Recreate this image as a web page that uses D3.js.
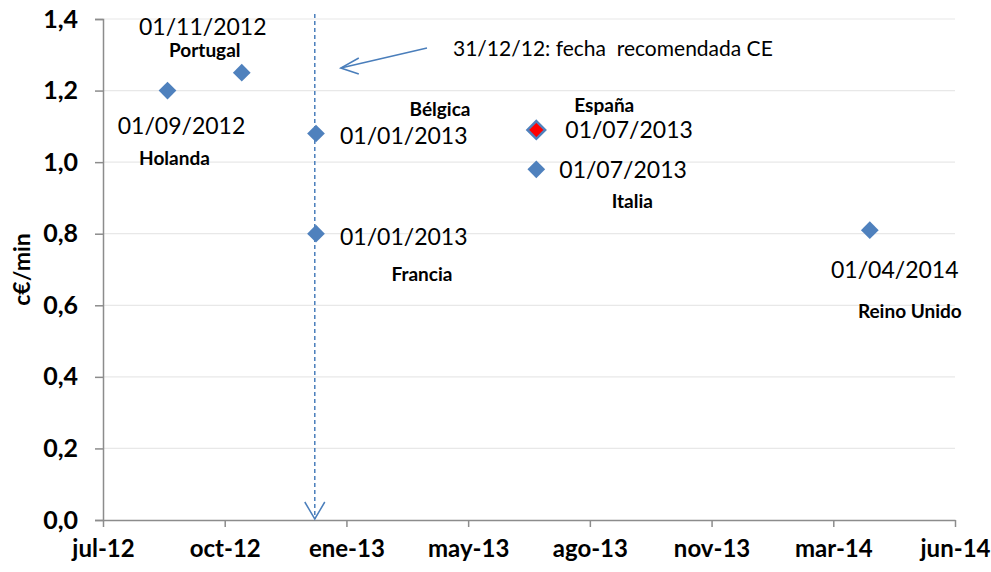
<!DOCTYPE html>
<html>
<head>
<meta charset="utf-8">
<script src="https://cdn.jsdelivr.net/npm/d3@7"></script>
<style>
  body { margin: 0; background: #fff; }
  svg text { font-family: Lato, "Open Sans", sans-serif; fill: #000; white-space: pre; }
</style>
</head>
<body>
<svg id="chart"></svg>
<script>
// data
var countries = ["Holanda", "Portugal", "Bélgica", "Francia", "España", "Italia", "Reino Unido"];
var dates = ["2012-09-01", "2012-11-01", "2013-01-01", "2013-01-01", "2013-07-01", "2013-07-01", "2014-04-01"];
var values = [1.20, 1.25, 1.08, 0.80, 1.09, 0.98, 0.81];
var dateLabels = ["01/09/2012", "01/11/2012", "01/01/2013", "01/01/2013", "01/07/2013", "01/07/2013", "01/04/2014"];

var xTickDates = ["2012-07-10", "2012-10-18", "2013-01-26", "2013-05-06", "2013-08-14", "2013-11-22", "2014-03-02", "2014-06-10"];
var xTickLabels = ["jul-12", "oct-12", "ene-13", "may-13", "ago-13", "nov-13", "mar-14", "jun-14"];
var yTicks = [0, 0.2, 0.4, 0.6, 0.8, 1.0, 1.2, 1.4];

var ceDate = "2012-12-31";
var ceText = "31/12/12: fecha  recomendada CE";

// label layout (offsets from the marker, px): [date dx, date dy, anchor, name dx, name dy]
var labelLayout = [
  [14, 35, "middle", 7, 68],
  [-39, -46, "middle", -37, -22],
  [24, 2, "start", 124, -24],
  [24, 3, "start", 106, 41],
  [29, 0, "start", 68, -25],
  [23, 1, "start", 96, 32],
  [25, 40, "middle", 40, 81]
];

var W = 991, H = 572;
var parse = d3.timeParse("%Y-%m-%d");

var svg = d3.select("#chart").attr("width", W).attr("height", H);

var x = d3.scaleTime()
  .domain([parse(xTickDates[0]), parse(xTickDates[xTickDates.length - 1])])
  .range([103, 955]);
var y = d3.scaleLinear().domain([0, 1.4]).range([520, 19]);

// gridlines
svg.append("g").selectAll("line")
  .data(yTicks.slice(1))
  .enter().append("line")
  .attr("x1", 103).attr("x2", 955)
  .attr("y1", function(d) { return y(d); })
  .attr("y2", function(d) { return y(d); })
  .attr("stroke", "#e8e8e8").attr("stroke-width", 1.2);

// y axis
var yAxis = svg.append("g")
  .attr("transform", "translate(103,0)")
  .call(d3.axisLeft(y).tickValues(yTicks).tickSize(8).tickPadding(17)
    .tickFormat(function(d) { return d3.format(".1f")(d).replace(".", ","); }));
yAxis.select(".domain").attr("stroke", "#8c8c8c").attr("stroke-width", 1.5);
yAxis.selectAll(".tick line").attr("stroke", "#8c8c8c").attr("stroke-width", 1.5);
yAxis.selectAll(".tick text")
  .style("font-size", "25px").style("font-weight", "bold").attr("fill", "#000");

// x axis
var xAxis = svg.append("g")
  .attr("transform", "translate(0,520)")
  .call(d3.axisBottom(x).tickValues(xTickDates.map(parse)).tickSize(7).tickSizeOuter(0).tickPadding(13)
    .tickFormat(function(d, i) { return xTickLabels[i]; }));
xAxis.select(".domain").attr("stroke", "#8c8c8c").attr("stroke-width", 1.5);
xAxis.selectAll(".tick line").attr("stroke", "#8c8c8c").attr("stroke-width", 1.5);
xAxis.selectAll(".tick text")
  .style("font-size", "24px").style("font-weight", "bold").attr("fill", "#000");

// y label
svg.append("text")
  .attr("transform", "translate(22," + y(0.7) + ") rotate(-90)")
  .attr("text-anchor", "middle")
  .attr("dy", "0.35em")
  .style("font-size", "23px").style("font-weight", "bold")
  .text("c€/min");

// CE vertical dashed line with arrow
var cx = x(parse(ceDate));
svg.append("line")
  .attr("x1", cx).attr("x2", cx).attr("y1", 14).attr("y2", 519)
  .attr("stroke", "#4a7ebb").attr("stroke-width", 1.5).attr("stroke-dasharray", "4,3");
svg.append("path")
  .attr("d", "M" + (cx - 10) + ",502 L" + cx + ",519 L" + (cx + 10) + ",502")
  .attr("fill", "none").attr("stroke", "#4a7ebb").attr("stroke-width", 1.5);

// annotation arrow
svg.append("path")
  .attr("d", "M427,48 L" + (cx + 26) + ",68")
  .attr("fill", "none").attr("stroke", "#4a7ebb").attr("stroke-width", 1.5);
svg.append("path")
  .attr("d", "M" + (cx + 44) + ",58 L" + (cx + 26) + ",68 L" + (cx + 44) + ",74")
  .attr("fill", "none").attr("stroke", "#4a7ebb").attr("stroke-width", 1.5);
svg.append("text")
  .attr("x", 453).attr("y", 49)
  .attr("dy", "0.35em")
  .style("font-size", "21px")
  .text(ceText);

// markers
var sym = d3.symbol().type(d3.symbolDiamond2).size(200);
svg.append("g").selectAll("path")
  .data(values)
  .enter().append("path")
  .attr("d", sym)
  .attr("transform", function(d, i) { return "translate(" + x(parse(dates[i])) + "," + y(d) + ")"; })
  .attr("fill", function(d, i) { return countries[i] === "España" ? "#ff0000" : "#4f81bd"; })
  .attr("stroke", function(d, i) { return countries[i] === "España" ? "#4f81bd" : "none"; })
  .attr("stroke-width", function(d, i) { return countries[i] === "España" ? 2.5 : 0; });

// labels
values.forEach(function(v, i) {
  var px = x(parse(dates[i])), py = y(v), L = labelLayout[i];
  svg.append("text")
    .attr("x", px + L[0]).attr("y", py + L[1])
    .attr("dy", "0.35em")
    .attr("text-anchor", L[2])
    .style("font-size", "23px")
    .text(dateLabels[i]);
  svg.append("text")
    .attr("x", px + L[3]).attr("y", py + L[4])
    .attr("dy", "0.35em")
    .attr("text-anchor", "middle")
    .style("font-size", "19px").style("font-weight", "bold")
    .text(countries[i]);
});
</script>
</body>
</html>
